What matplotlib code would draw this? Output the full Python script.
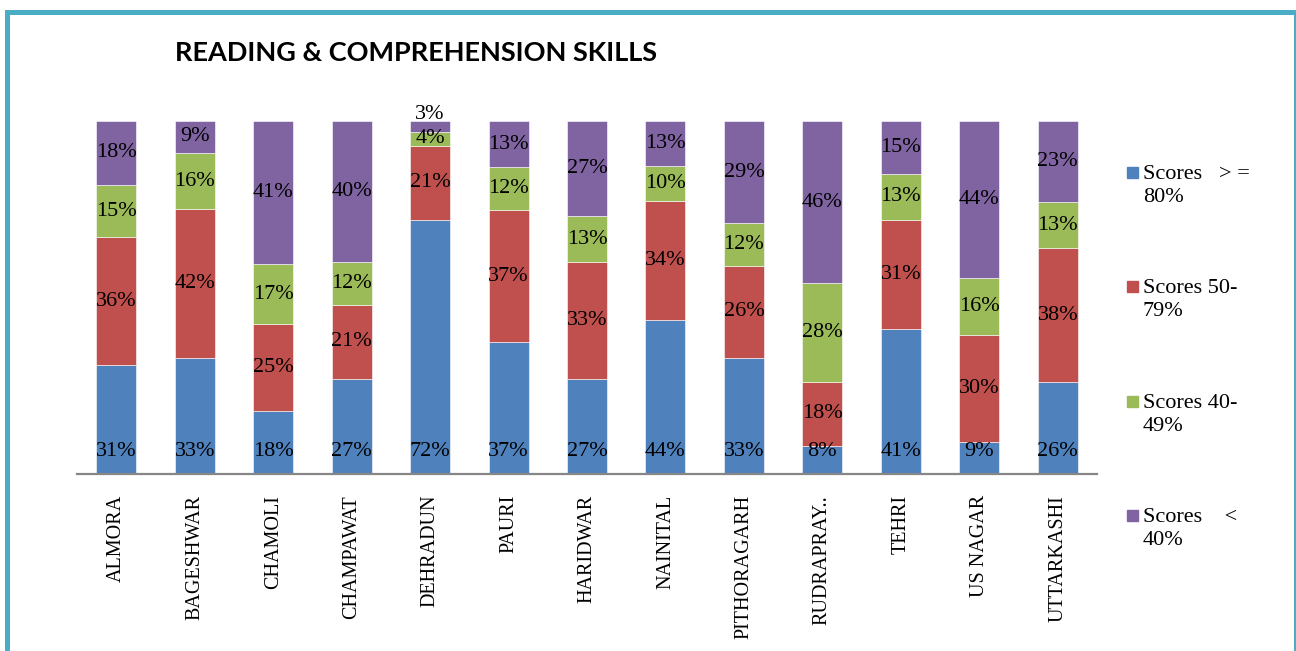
import matplotlib
matplotlib.use("Agg")
import matplotlib.pyplot as plt
from matplotlib.patches import Rectangle
import numpy as np

districts = ["ALMORA", "BAGESHWAR", "CHAMOLI", "CHAMPAWAT", "DEHRADUN", "PAURI",
             "HARIDWAR", "NAINITAL", "PITHORAGARH", "RUDRAPRAY..", "TEHRI",
             "US NAGAR", "UTTARKASHI"]
score_80_up = [31, 33, 18, 27, 72, 37, 27, 44, 33, 8, 41, 9, 26]
score_50_79 = [36, 42, 25, 21, 21, 37, 33, 34, 26, 18, 31, 30, 38]
score_40_49 = [15, 16, 17, 12, 4, 12, 13, 10, 12, 28, 13, 16, 13]
score_below_40 = [18, 9, 41, 40, 3, 13, 27, 13, 29, 46, 15, 44, 23]

series = [score_80_up, score_50_79, score_40_49, score_below_40]
legend_labels = ["Scores   > =\n80%", "Scores 50-\n79%", "Scores 40-\n49%", "Scores    <\n40%"]
colors = ["#4F81BD", "#C0504D", "#9BBB59", "#8064A2"]
title = "READING & COMPREHENSION SKILLS"

W, H = 1296, 651
fig = plt.figure(figsize=(W / 100, H / 100), dpi=100)
fig.patch.set_facecolor("white")

ax = fig.add_axes([77 / W, 1 - 474 / H, (1097 - 77) / W, (474 - 121) / H])

data = np.array(series, dtype=float)
totals = data.sum(axis=0)
frac = data / totals
x = np.arange(len(districts))
bottom = np.zeros(len(districts))
serif = "Liberation Serif"
lbl_size = 16
for k, (vals, fr, c) in enumerate(zip(series, frac, colors)):
    ax.bar(x, fr, 0.51, bottom=bottom, color=c, edgecolor="white", linewidth=0.4, zorder=2)
    for i, (v, f) in enumerate(zip(vals, fr)):
        if k == 0:
            # inside-base label
            ax.annotate(f"{v}%", xy=(x[i], bottom[i]), xytext=(0, 16.5),
                        textcoords="offset points", ha="center", va="center",
                        fontsize=lbl_size, family=serif, color="black", zorder=3,
                        annotation_clip=False)
            continue
        yc = bottom[i] + f / 2
        if v < 4 and bottom[i] + f >= 0.999:
            yc = bottom[i] + f - 0.008
            va = "bottom"
        else:
            va = "center"
        ax.text(x[i], yc, f"{v}%", ha="center", va=va, fontsize=lbl_size,
                family=serif, color="black", clip_on=False, zorder=3)
    bottom += fr

ax.set_xlim(-0.5, len(districts) - 0.5)
ax.set_ylim(0, 1)
ax.set_yticks([])
ax.set_xticks(x)
ax.set_xticklabels(districts, rotation=90, family=serif, fontsize=14.5, va="top")
ax.tick_params(axis="x", length=0, pad=15)
for s in ["top", "right", "left"]:
    ax.spines[s].set_visible(False)
ax.spines["bottom"].set_color("#868686")
ax.spines["bottom"].set_linewidth(1.6)
ax.spines["bottom"].set_zorder(4)

fig.text(416 / W, 1 - 53 / H, title, ha="center", va="center",
         fontsize=19.5, fontweight="bold", family="Lato", color="black")

# legend
leg_y = [172, 286, 401, 515]
for yy, lab, c in zip(leg_y, legend_labels, colors):
    fig.patches.append(Rectangle((1127 / W, 1 - (yy + 6) / H), 11 / W, 11 / H,
                                 transform=fig.transFigure, color=c, figure=fig))
    fig.text(1143 / W, 1 - (yy - 7) / H, lab, ha="left", va="top", fontsize=16,
             family=serif, linespacing=1.3, color="black")

# border
fig.patches.append(Rectangle((6.5 / W, -0.05), (1295.5 - 6.5) / W, 1.05 - 12 / H,
                             transform=fig.transFigure, fill=False,
                             edgecolor="#4BACC6", linewidth=3.6, figure=fig))

fig.savefig("out.png", dpi=100)
